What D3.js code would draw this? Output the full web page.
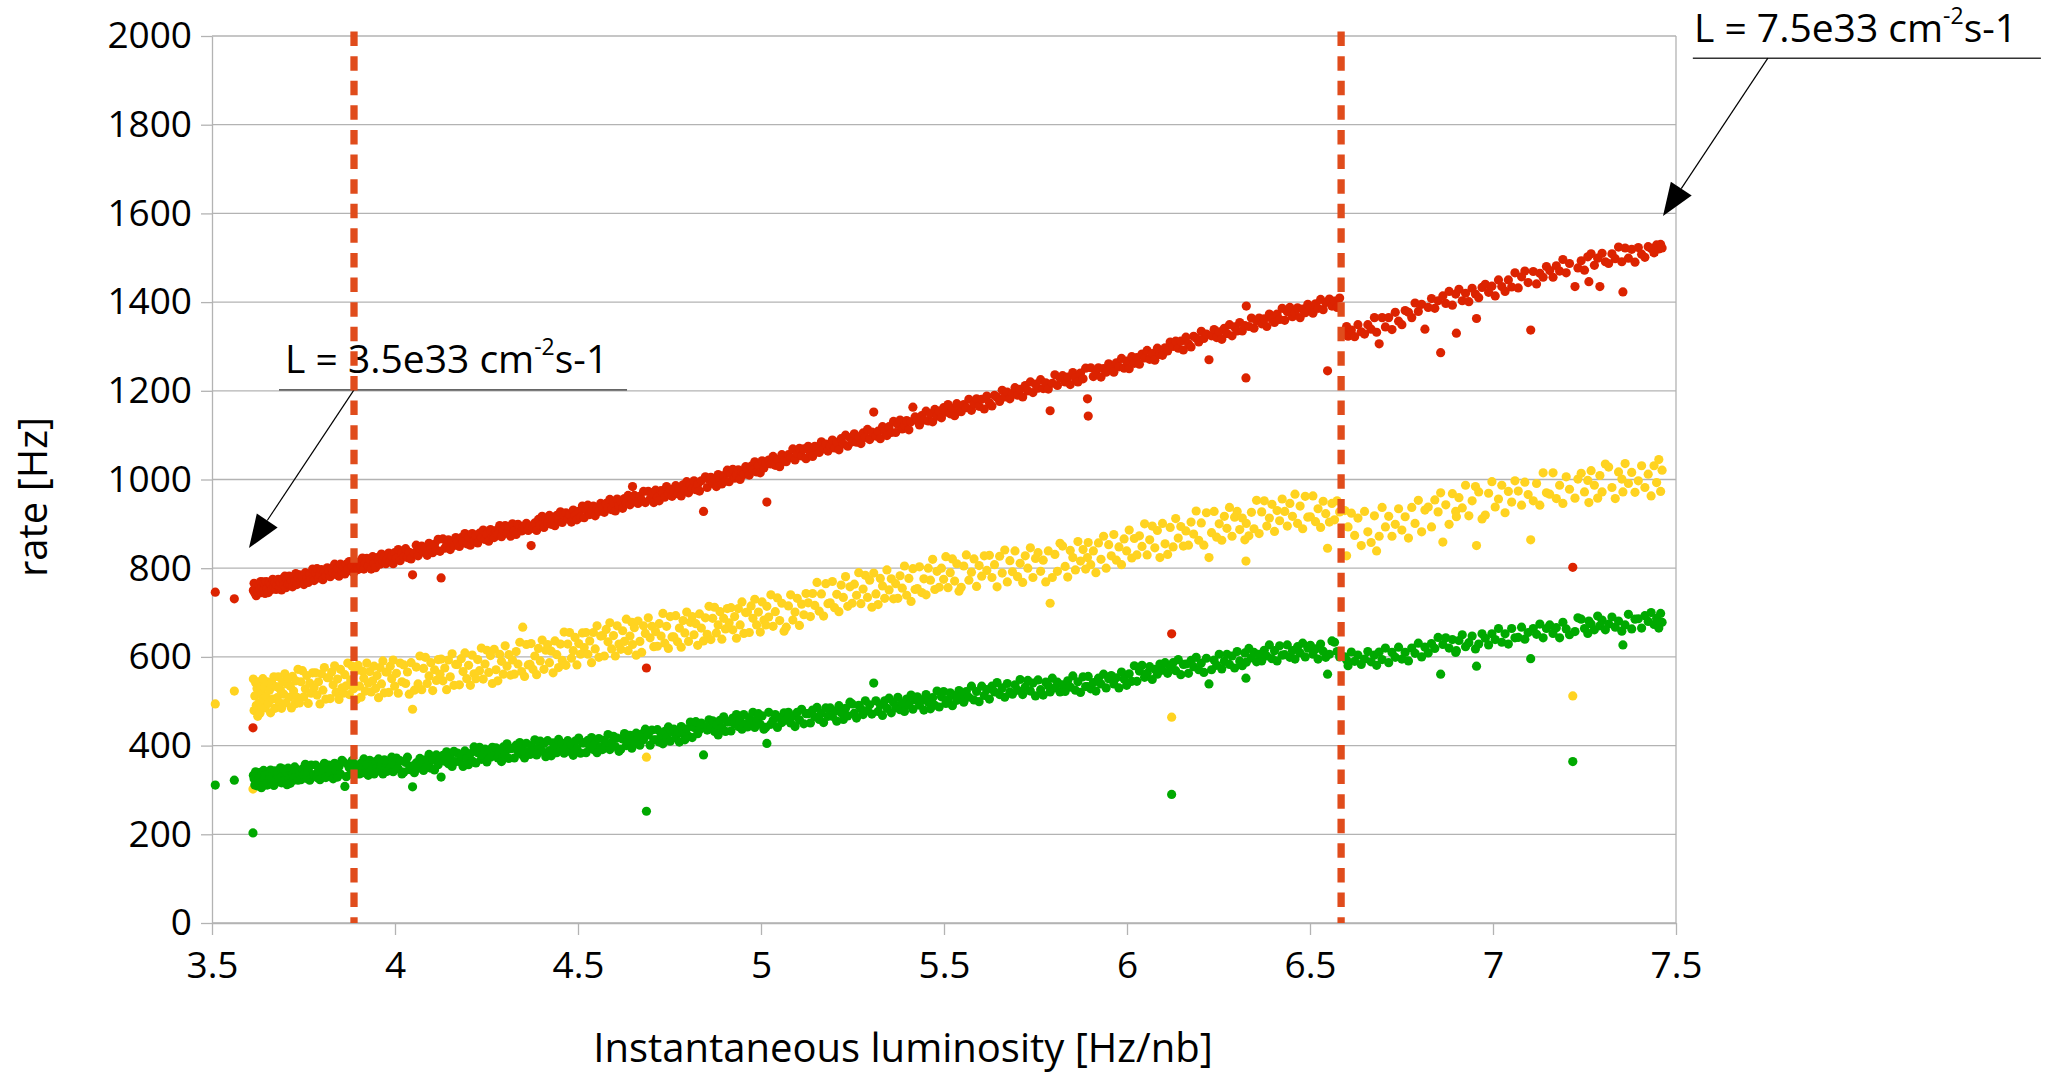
<!DOCTYPE html>
<html>
<head>
<meta charset="utf-8">
<script src="https://cdn.jsdelivr.net/npm/d3@7"></script>
<style>
body { margin: 0; background: #ffffff; }
svg text { font-family: "Open Sans", sans-serif; fill: #000000; }
.axis path, .axis line { stroke: #b3b3b3; stroke-width: 1.3; }
.axis text { font-size: 37px; }
</style>
</head>
<body>
<script>
let w = 2045;
let h = 1073;
let plotLeft = 212, plotRight = 1676, plotTop = 36, plotBottom = 923;

//Instantaneous luminosity [Hz/nb] of each measurement
let lumi = [
  3.509,3.561,3.612,3.613,3.615,3.617,3.619,3.621,3.623,3.625,
  3.627,3.629,3.631,3.633,3.635,3.637,3.639,3.641,3.643,3.645,
  3.648,3.651,3.654,3.657,3.660,3.663,3.666,3.669,3.672,3.675,
  3.678,3.681,3.684,3.687,3.690,3.693,3.696,3.699,3.702,3.705,
  3.708,3.711,3.714,3.717,3.720,3.723,3.726,3.729,3.732,3.735,
  3.739,3.743,3.747,3.751,3.755,3.759,3.763,3.767,3.771,3.775,
  3.779,3.783,3.787,3.791,3.795,3.799,3.803,3.807,3.811,3.815,
  3.819,3.823,3.827,3.831,3.835,3.839,3.843,3.847,3.851,3.855,
  3.859,3.863,3.867,3.871,3.875,3.879,3.883,3.887,3.891,3.895,
  3.899,3.903,3.907,3.911,3.915,3.919,3.923,3.927,3.931,3.935,
  3.939,3.943,3.947,3.951,3.955,3.959,3.963,3.967,3.971,3.975,
  3.979,3.983,3.987,3.991,3.995,3.999,4.004,4.009,4.014,4.019,
  4.024,4.029,4.034,4.039,4.044,4.048,4.053,4.058,4.063,4.068,
  4.073,4.078,4.083,4.088,4.093,4.098,4.103,4.108,4.113,4.118,
  4.123,4.126,4.131,4.136,4.141,4.146,4.151,4.156,4.161,4.166,
  4.171,4.176,4.181,4.186,4.191,4.196,4.201,4.206,4.211,4.216,
  4.221,4.226,4.231,4.236,4.241,4.246,4.251,4.256,4.261,4.266,
  4.271,4.276,4.281,4.286,4.291,4.296,4.301,4.306,4.311,4.316,
  4.321,4.326,4.331,4.336,4.341,4.346,4.349,4.354,4.359,4.364,
  4.369,4.372,4.377,4.382,4.387,4.392,4.397,4.402,4.407,4.412,
  4.417,4.422,4.427,4.432,4.437,4.442,4.447,4.452,4.457,4.462,
  4.467,4.472,4.477,4.482,4.487,4.492,4.497,4.502,4.507,4.512,
  4.517,4.522,4.527,4.532,4.537,4.542,4.547,4.552,4.557,4.562,
  4.567,4.572,4.577,4.582,4.587,4.592,4.597,4.602,4.607,4.612,
  4.617,4.622,4.627,4.632,4.637,4.642,4.647,4.649,4.654,4.659,
  4.664,4.669,4.674,4.679,4.684,4.687,4.692,4.697,4.702,4.707,
  4.712,4.717,4.722,4.727,4.732,4.737,4.742,4.747,4.752,4.757,
  4.762,4.767,4.772,4.777,4.782,4.787,4.792,4.797,4.802,4.807,
  4.812,4.817,4.822,4.827,4.832,4.837,4.843,4.848,4.853,4.858,
  4.863,4.868,4.873,4.878,4.883,4.888,4.893,4.898,4.903,4.908,
  4.913,4.918,4.923,4.928,4.933,4.938,4.943,4.948,4.953,4.958,
  4.963,4.968,4.973,4.978,4.983,4.988,4.993,4.998,5.003,5.008,
  5.013,5.016,5.021,5.027,5.033,5.039,5.045,5.051,5.057,5.063,
  5.069,5.075,5.081,5.087,5.093,5.099,5.105,5.111,5.117,5.123,
  5.129,5.135,5.141,5.147,5.153,5.159,5.165,5.171,5.177,5.183,
  5.189,5.195,5.201,5.207,5.213,5.219,5.225,5.231,5.237,5.243,
  5.249,5.255,5.261,5.267,5.273,5.279,5.285,5.291,5.297,5.303,
  5.308,5.314,5.320,5.326,5.332,5.338,5.344,5.350,5.356,5.362,
  5.368,5.374,5.380,5.386,5.392,5.398,5.404,5.410,5.415,5.421,
  5.427,5.433,5.439,5.445,5.451,5.457,5.463,5.469,5.475,5.481,
  5.487,5.493,5.499,5.505,5.511,5.517,5.523,5.529,5.535,5.541,
  5.547,5.554,5.561,5.568,5.575,5.582,5.589,5.596,5.603,5.610,
  5.617,5.624,5.631,5.638,5.645,5.652,5.659,5.666,5.673,5.680,
  5.687,5.694,5.701,5.708,5.715,5.722,5.729,5.736,5.743,5.750,
  5.757,5.764,5.771,5.778,5.785,5.790,5.796,5.803,5.810,5.817,
  5.824,5.831,5.838,5.845,5.852,5.859,5.866,5.873,5.880,5.887,
  5.892,5.894,5.901,5.908,5.915,5.922,5.929,5.936,5.943,5.950,
  5.957,5.964,5.971,5.978,5.985,5.992,5.999,6.006,6.013,6.020,
  6.027,6.034,6.041,6.048,6.055,6.062,6.069,6.076,6.083,6.090,
  6.097,6.104,6.111,6.118,6.122,6.126,6.133,6.140,6.147,6.154,
  6.161,6.168,6.175,6.182,6.189,6.196,6.203,6.210,6.217,6.224,
  6.231,6.238,6.245,6.252,6.259,6.266,6.273,6.280,6.287,6.294,
  6.301,6.308,6.315,6.322,6.325,6.326,6.333,6.340,6.347,6.354,
  6.361,6.368,6.375,6.382,6.389,6.396,6.403,6.410,6.417,6.424,
  6.431,6.438,6.445,6.452,6.459,6.466,6.473,6.480,6.487,6.494,
  6.501,6.508,6.515,6.522,6.529,6.536,6.543,6.548,6.553,6.560,
  6.567,6.574,6.581,6.595,6.600,6.604,6.613,6.622,6.631,6.640,
  6.649,6.658,6.667,6.676,6.682,6.689,6.697,6.706,6.715,6.724,
  6.733,6.742,6.751,6.760,6.769,6.778,6.787,6.796,6.805,6.814,
  6.823,6.832,6.841,6.850,6.857,6.863,6.871,6.880,6.889,6.898,
  6.900,6.907,6.916,6.925,6.934,6.943,6.952,6.955,6.961,6.970,
  6.979,6.988,6.997,7.006,7.015,7.024,7.033,7.042,7.051,7.060,
  7.069,7.078,7.087,7.096,7.103,7.110,7.119,7.128,7.137,7.146,
  7.155,7.164,7.173,7.182,7.191,7.200,7.209,7.218,7.224,7.232,
  7.241,7.250,7.259,7.262,7.268,7.277,7.286,7.292,7.298,7.307,
  7.316,7.325,7.334,7.343,7.352,7.355,7.361,7.370,7.379,7.388,
  7.397,7.406,7.415,7.424,7.432,7.440,7.447,7.453,7.458,7.462
];

//Rates [Hz] of the three triggers, same order as lumi
let rateRed = [
  746,731,440,750,766,744,755,738,763,747,
  745,760,752,770,745,758,769,751,766,743,
  770,754,745,768,762,752,775,759,768,752,
  762,775,757,768,751,776,762,782,756,774,
  764,782,762,773,758,781,770,788,763,780,
  785,771,780,763,790,778,768,787,774,798,
  772,790,799,778,785,797,774,792,783,801,
  793,781,800,790,809,786,800,782,809,793,
  804,787,809,799,815,794,806,790,815,800,
  797,813,804,823,798,812,822,805,820,798,
  826,810,801,824,819,809,832,816,826,810,
  820,834,815,827,810,835,822,842,817,835,
  826,844,824,836,821,785,834,852,828,845,
  850,836,846,829,856,844,835,854,841,865,
  838,778,866,845,852,864,842,860,851,869,
  861,849,869,859,878,855,870,852,878,862,
  873,857,879,869,886,865,877,861,887,872,
  869,885,877,896,871,885,896,879,894,872,
  900,884,876,899,894,884,893,891,901,885,
  895,851,890,902,885,910,897,917,892,910,
  901,919,899,911,896,919,909,927,903,920,
  925,911,921,904,931,919,909,928,915,940,
  914,932,942,921,928,940,918,936,928,946,
  938,926,946,936,955,932,947,929,956,940,
  951,935,957,947,964,943,955,984,964,949,
  946,962,954,973,948,575,973,956,970,948,
  976,960,952,975,970,960,984,968,978,962,
  972,986,968,980,963,988,975,995,970,988,
  979,997,977,989,974,997,928,1006,982,1000,
  1005,991,1001,984,1011,999,990,1009,996,1021,
  995,1013,1023,1003,1010,1022,1000,1018,1011,1029,
  1022,1010,1030,1021,1040,1017,1032,1015,1042,1026,
  1038,949,1044,1035,1052,1032,1045,1029,1056,1042,
  1040,1056,1049,1069,1044,1059,1070,1053,1069,1047,
  1075,1059,1052,1075,1070,1061,1085,1069,1080,1064,
  1075,1089,1071,1084,1067,1092,1080,1100,1075,1094,
  1085,1103,1084,1096,1081,1105,1095,1113,1090,1107,
  1152,1098,1109,1092,1119,1108,1099,1119,1106,1131,
  1106,1124,1134,1114,1121,1133,1112,1130,1163,1141,
  1134,1123,1144,1134,1154,1132,1148,1130,1158,1143,
  1154,1139,1162,1152,1169,1148,1160,1144,1171,1156,
  1153,1169,1162,1181,1156,1171,1182,1165,1181,1159,
  1188,1173,1166,1190,1185,1176,1201,1186,1197,1182,
  1193,1207,1190,1203,1186,1212,1200,1220,1196,1215,
  1206,1225,1205,1218,1204,1155,1217,1236,1212,1229,
  1234,1220,1231,1214,1241,1229,1220,1240,1227,1251,
  1182,1143,1252,1232,1240,1252,1231,1250,1242,1261,
  1253,1242,1263,1254,1273,1251,1267,1250,1277,1262,
  1275,1260,1283,1274,1291,1271,1284,1269,1296,1282,
  1280,1297,1290,1310,652,1300,1312,1296,1312,1292,
  1321,1306,1299,1323,1319,1310,1334,1318,1328,1270,
  1324,1338,1320,1333,1316,1341,1329,1349,1324,1344,
  1335,1354,1335,1347,1229,1391,1345,1364,1341,1358,
  1364,1351,1362,1345,1373,1362,1354,1373,1361,1386,
  1359,1378,1388,1367,1375,1387,1365,1384,1376,1395,
  1387,1375,1396,1386,1406,1383,1399,1245,1407,1391,
  1402,1388,1409,1328,1345,1323,1337,1322,1349,1333,
  1328,1349,1339,1365,1332,1306,1365,1344,1365,1338,
  1377,1357,1349,1381,1377,1365,1398,1379,1395,1339,
  1388,1408,1386,1403,1286,1414,1397,1424,1393,1418,
  1330,1429,1403,1420,1401,1431,1418,1363,1410,1433,
  1440,1422,1436,1414,1450,1435,1424,1450,1434,1466,
  1432,1457,1470,1444,1337,1469,1441,1465,1456,1480,
  1471,1456,1482,1470,1496,1466,1487,802,1435,1477,
  1493,1472,1502,1446,1509,1483,1499,1435,1510,1491,
  1487,1509,1498,1524,1491,1423,1522,1499,1519,1490,
  1523,1508,1501,1525,1521,1511,1529,1520,1530,1522
];

let rateYellow = [
  494,523,302,550,479,512,542,491,529,466,
  544,497,473,532,516,487,551,505,531,485,
  511,544,495,525,474,542,505,555,484,533,
  508,555,497,526,484,544,516,562,496,539,
  551,509,534,485,556,523,494,546,509,572,
  496,544,569,510,528,558,495,541,518,564,
  531,564,514,544,494,562,525,576,505,553,
  553,506,566,537,580,520,550,504,572,530,
  518,560,535,586,515,548,579,528,567,504,
  581,534,509,568,552,523,586,541,567,521,
  546,579,529,558,508,576,539,591,519,566,
  566,520,579,551,593,534,563,518,586,544,
  582,540,566,516,587,482,525,577,539,602,
  526,574,599,540,557,587,524,571,547,594,
  561,595,546,575,526,593,555,607,536,583,
  583,537,596,567,609,551,581,536,604,562,
  551,594,569,620,550,584,615,565,603,540,
  617,571,546,606,590,561,625,579,605,559,
  593,561,612,584,633,567,667,556,628,582,
  583,630,572,602,560,619,591,638,572,615,
  628,587,613,564,636,605,576,629,592,656,
  581,629,655,597,614,644,582,630,606,654,
  621,655,606,636,587,655,618,670,599,647,
  648,602,662,634,677,618,648,602,670,629,
  617,659,635,685,614,647,678,628,666,604,
  681,635,610,670,653,374,688,643,669,623,
  657,624,675,647,698,631,669,619,691,645,
  645,693,634,665,622,682,654,701,635,678,
  691,650,675,626,697,665,636,688,651,714,
  639,687,712,654,672,702,640,687,663,709,
  677,711,661,691,642,709,672,724,653,700,
  701,655,715,687,730,672,701,656,724,683,
  672,714,690,740,669,702,733,682,721,658,
  667,715,740,683,701,732,671,719,695,743,
  722,691,743,716,768,703,742,692,765,720,
  722,770,711,741,702,762,734,781,714,758,
  721,764,739,790,720,753,784,734,773,712,
  789,742,718,777,760,732,796,751,776,731,
  765,732,783,755,805,739,777,725,799,752,
  754,803,745,776,740,800,773,820,752,793,
  757,800,775,826,756,790,821,771,810,748,
  757,805,830,773,791,821,759,806,782,828,
  795,829,779,808,758,827,789,841,769,817,
  792,839,781,811,768,828,800,846,779,822,
  835,793,818,769,839,721,779,831,793,856,
  850,804,780,840,824,796,860,816,842,798,
  824,858,808,839,790,857,820,872,800,853,
  828,876,818,848,808,866,839,886,823,867,
  830,873,849,900,830,864,895,846,885,824,
  901,855,831,892,464,848,912,868,894,850,
  884,852,904,877,929,863,902,852,925,824,
  880,928,870,900,863,917,890,937,872,915,
  928,887,913,864,816,901,873,926,889,953,
  878,927,952,895,913,944,883,930,907,956,
  928,895,946,917,967,901,940,889,962,915,
  916,963,905,934,892,951,923,845,904,946,
  909,952,927,930,828,893,924,874,913,851,
  928,882,858,918,839,872,937,893,917,872,
  899,934,886,916,868,937,901,953,882,931,
  938,893,954,927,970,859,943,899,968,928,
  916,959,936,987,918,952,984,851,972,911,
  920,969,995,938,956,987,925,973,949,997,
  974,942,994,966,864,952,991,942,1015,970,
  967,1015,957,987,946,1006,978,512,958,1001,
  1014,972,998,948,1020,987,958,1009,972,1035,
  1028,982,957,1017,1001,972,1036,991,1016,971,
  997,1031,982,1012,963,1031,993,1045,973,1021
];

let rateGreen = [
  311,322,203,333,325,311,341,319,331,309,
  323,339,315,329,305,338,320,344,311,333,
  333,311,339,325,345,317,332,310,343,323,
  318,338,326,350,316,331,347,323,342,312,
  349,327,315,344,336,322,352,331,344,322,
  338,323,347,334,358,326,345,322,356,334,
  334,356,328,343,323,351,337,360,328,349,
  356,336,349,325,360,344,329,353,336,367,
  363,308,330,358,350,336,366,345,357,336,
  352,336,360,346,370,338,357,333,367,345,
  358,336,364,350,370,343,357,336,368,348,
  342,362,350,374,341,357,372,348,366,336,
  340,362,374,346,354,307,339,361,349,371,
  359,344,368,355,380,349,368,345,379,357,
  370,329,378,365,386,359,374,353,387,364,
  383,364,376,353,388,372,357,382,365,397,
  361,384,396,369,378,392,363,385,374,396,
  380,395,372,387,364,397,380,404,371,393,
  394,372,401,387,407,380,390,372,405,385,
  380,400,389,413,379,396,410,387,405,375,
  411,389,377,406,398,384,414,392,405,383,
  395,411,387,402,378,410,393,417,383,406,
  406,384,412,398,418,391,405,384,416,396,
  391,412,400,425,391,407,421,398,417,387,
  392,415,427,400,409,423,394,416,405,428,
  416,401,426,413,437,252,424,401,435,413,
  413,436,408,423,404,432,419,442,410,431,
  437,418,431,408,443,427,413,438,421,453,
  418,441,454,427,436,451,379,442,435,458,
  439,456,432,447,424,457,440,465,432,453,
  454,433,462,449,470,443,458,437,470,448,
  442,463,451,475,441,458,472,448,467,437,
  441,405,475,448,457,470,441,463,452,474,
  458,475,451,466,443,475,458,482,449,472,
  472,451,480,465,486,459,473,452,485,466,
  485,466,478,455,490,474,459,484,467,498,
  494,473,462,491,483,470,501,479,492,471,
  541,501,477,492,468,501,484,507,474,497,
  486,509,481,496,477,505,492,514,482,503,
  510,491,503,480,515,498,483,508,491,523,
  487,510,522,495,504,519,490,513,502,524,
  513,498,522,509,534,503,522,499,534,513,
  526,505,534,521,542,515,530,509,540,521,
  516,537,525,549,515,532,547,523,541,512,
  548,526,514,543,535,521,552,530,543,521,
  537,522,546,532,557,525,544,520,555,533,
  533,556,528,542,523,552,539,561,530,551,
  558,539,553,530,566,550,536,562,545,580,
  545,568,581,554,563,578,549,572,561,584,
  570,587,563,578,290,587,569,594,560,583,
  584,563,592,578,599,571,586,565,597,539,
  571,593,581,606,573,590,606,583,602,575,
  612,591,580,609,552,588,619,598,610,589,
  606,591,615,602,627,596,614,591,625,604,
  605,627,599,614,595,623,609,631,600,620,
  626,606,618,595,629,613,599,561,606,636,
  633,612,600,600,593,580,611,590,604,583,
  595,612,589,604,581,611,594,620,587,610,
  599,622,595,610,591,620,608,631,600,622,
  609,630,619,644,561,628,643,620,639,610,
  614,637,650,623,632,647,618,579,629,652,
  642,627,652,639,664,633,652,629,664,643,
  644,667,640,655,596,664,651,674,643,664,
  672,653,666,643,678,663,650,364,657,688,
  685,664,653,681,674,661,692,670,683,661,
  674,690,667,681,658,627,672,696,663,685,
  686,665,693,680,700,673,687,665,698,678
];

let seriesColors = ["#dc2300", "#ffd320", "#00a900"];
let seriesRates = [rateRed, rateYellow, rateGreen];

let xTicks = [3.5, 4, 4.5, 5, 5.5, 6, 6.5, 7, 7.5];
let yTicks = [0, 200, 400, 600, 800, 1000, 1200, 1400, 1600, 1800, 2000];

//Luminosities marked with the dashed lines
let markerLumi = [3.888, 6.585];

//Callouts: arrow tip, elbow on the underline, underline ends, text origin (data units)
let callouts = [
  {main: "L = 7.5e33 cm", sup: "-2", tail: "s-1", tip: [7.4645, 1594], elbow: [7.751, 1950], line: [7.546, 8.497], at: [7.549, 1986.5]},
  {main: "L = 3.5e33 cm", sup: "-2", tail: "s-1", tip: [3.601, 845.5], elbow: [3.888, 1202], line: [3.683, 4.634], at: [3.6995, 1240]}
];

if (rateRed.length != lumi.length || rateYellow.length != lumi.length || rateGreen.length != lumi.length) {
    console.warn("length mismatch", lumi.length, rateRed.length, rateYellow.length, rateGreen.length);
}

let xScale = d3.scaleLinear()
    .domain([3.5, 7.5])
    .range([plotLeft, plotRight]);

let yScale = d3.scaleLinear()
    .domain([0, 2000])
    .range([plotBottom, plotTop]);

let svg = d3.select("body")
    .append("svg")
    .attr("width", w)
    .attr("height", h);

//Horizontal grid
svg.append("g")
    .selectAll("line")
    .data(yTicks)
    .enter()
    .append("line")
    .attr("x1", plotLeft)
    .attr("x2", plotRight)
    .attr("y1", d => yScale(d))
    .attr("y2", d => yScale(d))
    .attr("stroke", "#b3b3b3")
    .attr("stroke-width", 1.3);

//Right frame edge
svg.append("line")
    .attr("x1", plotRight)
    .attr("x2", plotRight)
    .attr("y1", yScale(2000))
    .attr("y2", yScale(0))
    .attr("stroke", "#b3b3b3")
    .attr("stroke-width", 1.3);

//Axes
let yAxis = d3.axisLeft(yScale)
    .tickValues(yTicks)
    .tickFormat(d => d)
    .tickSize(11)
    .tickSizeOuter(0)
    .tickPadding(9);

let xAxis = d3.axisBottom(xScale)
    .tickValues(xTicks)
    .tickFormat(d => d)
    .tickSize(12)
    .tickSizeOuter(0)
    .tickPadding(17);

svg.append("g")
    .attr("class", "axis")
    .attr("transform", "translate(" + plotLeft + ",0)")
    .call(yAxis);

svg.append("g")
    .attr("class", "axis")
    .attr("transform", "translate(0," + plotBottom + ")")
    .call(xAxis);

//Points, one group per trigger
seriesRates.forEach(function(rates, k) {
    let n = Math.min(lumi.length, rates.length);
    svg.append("g")
        .selectAll("circle")
        .data(d3.range(n))
        .enter()
        .append("circle")
        .attr("cx", i => xScale(lumi[i]))
        .attr("cy", i => yScale(rates[i]))
        .attr("r", 4.6)
        .attr("fill", seriesColors[k]);
});

//Axis titles
svg.append("text")
    .attr("x", (plotLeft + plotRight) / 2 - 41)
    .attr("y", 1062)
    .attr("text-anchor", "middle")
    .style("font-size", "40px")
    .text("Instantaneous luminosity [Hz/nb]");

svg.append("text")
    .attr("transform", "translate(47," + 497 + ") rotate(-90)")
    .attr("text-anchor", "middle")
    .style("font-size", "40px")
    .text("rate [Hz]");

//Callouts with underline and arrow
callouts.forEach(function(c) {
    let g = svg.append("g");
    let t = g.append("text")
        .attr("x", xScale(c.at[0]))
        .attr("y", yScale(c.at[1]))
        .style("font-size", "39px");
    t.append("tspan").text(c.main);
    t.append("tspan").attr("dy", -18).style("font-size", "23px").text(c.sup);
    t.append("tspan").attr("dy", 18).text(c.tail);

    g.append("line")
        .attr("x1", xScale(c.line[0]))
        .attr("x2", xScale(c.line[1]))
        .attr("y1", yScale(c.elbow[1]))
        .attr("y2", yScale(c.elbow[1]))
        .attr("stroke", "#333333")
        .attr("stroke-width", 1.4);

    let x0 = xScale(c.elbow[0]), y0 = yScale(c.elbow[1]);
    let x1 = xScale(c.tip[0]), y1 = yScale(c.tip[1]);
    let len = Math.hypot(x1 - x0, y1 - y0);
    let ux = (x1 - x0) / len, uy = (y1 - y0) / len;
    let headLen = 33, headHalf = 12.5;
    let bx = x1 - ux * headLen, by = y1 - uy * headLen;

    g.append("line")
        .attr("x1", x0)
        .attr("y1", y0)
        .attr("x2", bx)
        .attr("y2", by)
        .attr("stroke", "#000000")
        .attr("stroke-width", 1.2);

    g.append("polygon")
        .attr("points", [
            [x1, y1],
            [bx - uy * headHalf, by + ux * headHalf],
            [bx + uy * headHalf, by - ux * headHalf]
        ].map(p => p.join(",")).join(" "))
        .attr("fill", "#000000");
});

//Dashed luminosity markers, drawn on top
svg.append("g")
    .selectAll("line")
    .data(markerLumi)
    .enter()
    .append("line")
    .attr("x1", d => xScale(d))
    .attr("x2", d => xScale(d))
    .attr("y1", yScale(2010))
    .attr("y2", yScale(0))
    .attr("stroke", "#e04c1c")
    .attr("stroke-width", 7.3)
    .attr("stroke-dasharray", "14.5,10.1");
</script>
</body>
</html>
